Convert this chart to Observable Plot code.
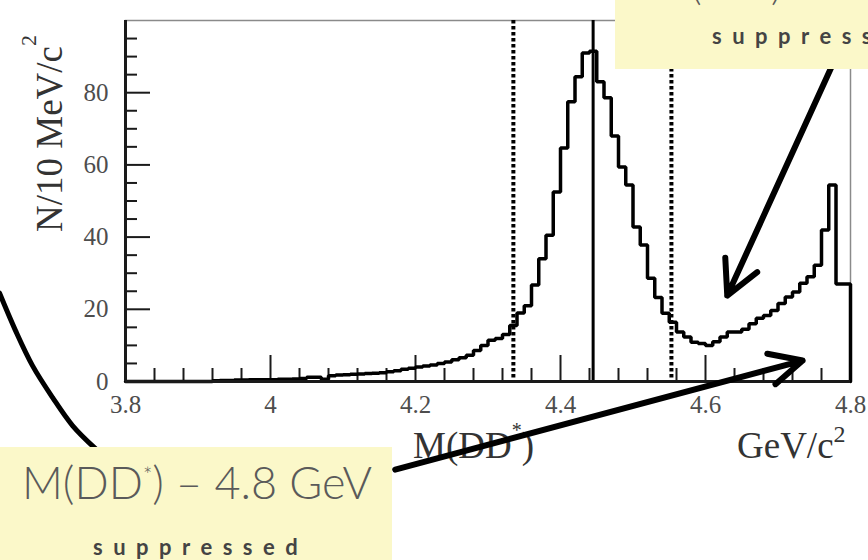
<!DOCTYPE html>
<html><head><meta charset="utf-8">
<script src="https://cdn.jsdelivr.net/npm/d3@7"></script>
<script src="https://cdn.jsdelivr.net/npm/@observablehq/plot@0.6"></script>
<style>
html,body{margin:0;padding:0;background:#fff;}
#wrap{position:relative;width:868px;height:560px;overflow:hidden;background:#fff;}
#wrap svg{position:absolute;left:0;top:0;z-index:1;}
.title{position:absolute;z-index:0;font-family:"Liberation Serif",serif;font-size:37px;line-height:1;color:#333;white-space:nowrap;}
.sup{position:relative;}
.box{position:absolute;z-index:2;background:#fbf8c9;overflow:hidden;}
.boxtxt{position:absolute;font-family:Lato,"Open Sans",sans-serif;font-weight:300;line-height:1;color:#5a5a5a;white-space:nowrap;}
.supp{position:absolute;font-family:Lato,"Open Sans",sans-serif;font-weight:700;font-size:22px;letter-spacing:10.5px;line-height:1;color:#444;white-space:nowrap;}
</style>
</head><body>
<div id="wrap"></div>
<script>
// ---- data: counts per 10 MeV bin, M(DD*) from 3.80 to 4.80 GeV ----
const binStart = 3.80;
const binWidth = 0.01;
const counts = [
  0, 0, 0, 0, 0, 0, 0, 0, 0, 0,            // 3.80-3.89
  0, 0, 0.2, 0.3, 0.3, 0.4, 0.4, 0.5, 0.5, 0.5, // 3.90-3.99
  0.5, 0.6, 0.6, 0.7, 0.8, 1.2, 1.2, 0.6, 1.6, 1.8, // 4.00-4.09
  1.9, 2.0, 2.1, 2.2, 2.3, 2.4, 2.7, 3.0, 3.4, 3.7, // 4.10-4.19
  4.0, 4.3, 4.6, 5.0, 5.4, 6.0, 6.6, 7.3, 8.6, 10.0, // 4.20-4.29
  11.4, 11.9, 13.0, 15.5, 19.0, 21.0, 26.7, 34.0, 40.5, 52.5, // 4.30-4.39
  64.7, 77.5, 84.4, 91.0, 91.5, 83.0, 78.6, 68.0, 59.4, 54.4, // 4.40-4.49
  42.8, 37.8, 28.6, 23.3, 18.9, 16.4, 13.7, 12.3, 10.9, 10.5, // 4.50-4.59
  10.0, 11.0, 12.3, 13.7, 13.7, 14.5, 16.0, 17.5, 18.3, 19.7, // 4.60-4.69
  21.6, 23.4, 24.8, 27.2, 29.0, 32.2, 42.0, 54.4, 27.0, 27.0  // 4.70-4.79
];
const peakLine = [4.445];
const windowLines = [4.335, 4.553];
const xMajorTicks = [3.8, 4.0, 4.2, 4.4, 4.6, 4.8];
const xMinorTicks = [3.84,3.88,3.92,3.96,4.04,4.08,4.12,4.16,4.24,4.28,4.32,4.36,4.44,4.48,4.52,4.56,4.64,4.68,4.72,4.76];
const yMajorTicks = [0, 20, 40, 60, 80];
const yMinorTicks = [5,10,15,25,30,35,45,50,55,65,70,75,85,90,95];
// annotation geometry (in data units)
const arrowUpper = [{x1: 4.778, y1: 89.0, x2: 4.630, y2: 23.8}];
const arrowLower = [{x1: 4.172, y1: -24.4, x2: 4.734, y2: 5.8}];
const bracketCurve = [
  {m: 3.6262, n: 24.5}, {m: 3.6483, n: 14.1}, {m: 3.6717, n: 4.4},
  {m: 3.6993, n: -4.4}, {m: 3.7269, n: -12.2}, {m: 3.7586, n: -18.6}
];

const hist = counts.map((c, i) => ({m: binStart + i * binWidth, n: c}));
hist.push({m: binStart + counts.length * binWidth, n: 0});

const ink = "#1a1a1a";
const lab = "#4d4d4d";

const chart = Plot.plot({
  width: 868, height: 560,
  marginLeft: 125, marginRight: 18, marginTop: 20, marginBottom: 179,
  style: {background: "transparent", fontFamily: "'Liberation Serif', serif"},
  x: {domain: [3.8, 4.8]},
  y: {domain: [0, 100]},
  marks: [
    Plot.frame({stroke: "#8a8a8a", strokeWidth: 1.5}),
    Plot.axisY(yMinorTicks, {anchor: "left", tickSize: -12, strokeWidth: 2, stroke: ink, fill: "none", label: null}),
    Plot.axisY(yMajorTicks, {anchor: "left", tickSize: -25, strokeWidth: 2, stroke: ink, fill: "none", label: null}),
    Plot.axisY(yMajorTicks, {anchor: "left", tickSize: 0, tickPadding: 17, fontSize: 25, fill: lab, label: null, tickFormat: d => String(d)}),
    Plot.axisX(xMinorTicks, {anchor: "bottom", tickSize: -13, strokeWidth: 2, stroke: ink, fill: "none", label: null}),
    Plot.axisX(xMajorTicks, {anchor: "bottom", tickSize: -26, strokeWidth: 2, stroke: ink, fill: "none", label: null}),
    Plot.axisX(xMajorTicks, {anchor: "bottom", tickSize: 0, tickPadding: 14, fontSize: 25, fill: lab, label: null, tickFormat: d => String(d)}),
    Plot.ruleX(windowLines, {stroke: "#000", strokeWidth: 4, strokeDasharray: "3.5,2.5"}),
    Plot.ruleX(peakLine, {stroke: "#000", strokeWidth: 3}),
    Plot.line(hist, {x: "m", y: "n", curve: "step-after", stroke: "#000", strokeWidth: 3.5, strokeLinejoin: "miter"}),
    Plot.ruleX([3.8], {stroke: ink, strokeWidth: 3}),
    Plot.ruleY([0], {stroke: ink, strokeWidth: 3}),
    Plot.line(bracketCurve, {x: "m", y: "n", curve: "catmull-rom", stroke: "#000", strokeWidth: 5}),
    Plot.arrow(arrowUpper, {x1: "x1", y1: "y1", x2: "x2", y2: "y2", stroke: "#000", strokeWidth: 6, headLength: 9.5, headAngle: 55}),
    Plot.arrow(arrowLower, {x1: "x1", y1: "y1", x2: "x2", y2: "y2", stroke: "#000", strokeWidth: 6, headLength: 9, headAngle: 52})
  ]
});

const wrap = document.getElementById("wrap");
wrap.appendChild(chart);

// axis titles (behind the transparent svg so the arrow crosses over them)
wrap.insertAdjacentHTML("beforeend", `
<div class="title" style="left:413px;top:427px;">M(DD<span class="sup" style="font-size:20px;top:-21px;">*</span>)</div>
<div class="title" style="left:737px;top:427px;">GeV/c<span class="sup" style="font-size:24px;top:-16px;">2</span></div>
<div class="title" style="left:0;top:0;transform-origin:0 0;transform:translate(31px,232px) rotate(-90deg);">N/10 MeV/c<span class="sup" style="font-size:22px;top:-26px;">2</span></div>
<div class="box" style="left:0;top:447px;width:392px;height:113px;">
  <div class="boxtxt" style="left:22px;top:13px;font-size:45px;">M(DD<span class="sup" style="font-size:22px;top:-16px;">*</span>) – 4.8 GeV</div>
  <div class="supp" style="left:93px;top:89px;">suppressed</div>
</div>
<div class="box" style="left:615px;top:0;width:253px;height:69px;">
  <div class="boxtxt" style="left:40px;top:-35px;font-size:40px;">M(DD<span class="sup" style="font-size:20px;top:-14px;">*</span>) – 4.6 GeV</div>
  <div class="supp" style="left:97px;top:25px;">suppressed</div>
</div>
`);
</script>
</body></html>
